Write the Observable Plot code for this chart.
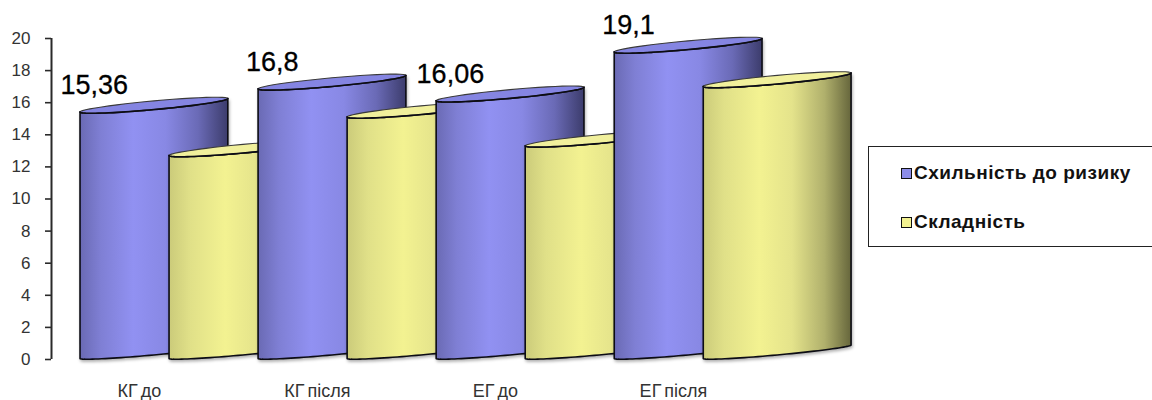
<!DOCTYPE html>
<html>
<head>
<meta charset="utf-8">
<script src="https://cdn.jsdelivr.net/npm/d3@7"></script>
<script src="https://cdn.jsdelivr.net/npm/@observablehq/plot@0.6"></script>
<style>
  html, body { margin: 0; padding: 0; background: #fff; }
  #chart { position: relative; width: 1152px; height: 400px; overflow: hidden; font-family: "Liberation Sans", Arial, sans-serif; }
  #chart svg { display: block; }
  #chart svg [aria-label="x-axis tick label"] text { word-spacing: -2px; }
  .legend { position: absolute; left: 868px; top: 146px; width: 284px; height: 101px; box-sizing: border-box; border: 1px solid #222; border-right: none; background: #fff; }
  .legend .row { position: absolute; left: 32px; height: 20px; display: flex; align-items: center; font-weight: bold; font-size: 19px; letter-spacing: 0.5px; color: #111; white-space: nowrap; }
  .legend .swatch { width: 9px; height: 9px; border: 1.5px solid #111; margin-right: 2px; }
</style>
</head>
<body>
<div id="chart"></div>
<script>
// Readings per group
const categories = ["КГ до", "КГ після", "ЕГ до", "ЕГ після"];
const seriesNames = ["Схильність до ризику", "Складність"];
const riskValues = [15.36, 16.8, 16.06, 19.1];
const complexityValues = [12.65, 15.05, 13.25, 16.95];
const yTicks = [0, 2, 4, 6, 8, 10, 12, 14, 16, 18, 20];

// One group step on x is 1 unit; these are the cylinder proportions in chart units
const seriesOffset = [0, 0.5];
const cylinderWidth = 0.83;
const tilt = 0.84;      // rise of the cap across the cylinder, in value units
const capDepth = 0.27;  // half thickness of the elliptical top cap, in value units
const baseDepth = 0.2;  // half thickness of the curved bottom edge
const capSteps = 48;

const width = 1152, height = 400;
const xMin = -0.163, xMax = 6.02;

// Half an ellipse (or all of it) tilted across the cylinder, starting at base value v
function capArc(left, v, from, to, depth = capDepth) {
  const a = cylinderWidth / 2, xc = left + a, yc = v + tilt / 2;
  return d3.range(capSteps + 1).map(k => {
    const t = from + (to - from) * k / capSteps;
    return {x: xc + a * Math.cos(t), y: yc + (tilt / 2) * Math.cos(t) - depth * Math.sin(t)};
  });
}

// Body outline: front of the top cap, right edge, front of the bottom cap, left edge
function sideOutline(left, v) {
  const top = capArc(left, v, Math.PI, 0);
  const bottom = capArc(left, 0, 0, Math.PI, baseDepth);
  return [...top, ...bottom, top[0]];
}

function cylinderMarks(left, v, kind) {
  return [
    Plot.line(sideOutline(left, v), {
      x: "x", y: "y", dy: -1, dx: -0.5,
      fill: `url(#${kind}Side)`, stroke: "#0c0c14", strokeWidth: 1.6,
      strokeLinejoin: "round",
      imageFilter: "drop-shadow(1px 2px 1.5px rgba(0,0,0,0.3))"
    }),
    Plot.line(capArc(left, v, 0, 2 * Math.PI), {
      x: "x", y: "y", dy: -1, dx: -0.5,
      fill: kind === "blue" ? "#8585e2" : "#f1f09c",
      stroke: "#3a3a3a", strokeWidth: 1.1
    }),
    Plot.line(capArc(left, v, Math.PI, 0), {
      x: "x", y: "y", dy: -1, dx: -0.5, stroke: "#0c0c14", strokeWidth: 1.6
    })
  ];
}

// Shading across the cylinder body
function gradients() {
  const g = document.createElementNS("http://www.w3.org/2000/svg", "g");
  g.innerHTML = `<defs>
    <linearGradient id="blueSide" x1="0" x2="1" y1="0" y2="0">
      <stop offset="0" stop-color="#6a6ab4"/>
      <stop offset="0.14" stop-color="#7f7fd4"/>
      <stop offset="0.36" stop-color="#9191f2"/>
      <stop offset="0.58" stop-color="#8888e4"/>
      <stop offset="0.8" stop-color="#6a6ab6"/>
      <stop offset="1" stop-color="#3c3c6c"/>
    </linearGradient>
    <linearGradient id="yellowSide" x1="0" x2="1" y1="0" y2="0">
      <stop offset="0" stop-color="#cbcb7a"/>
      <stop offset="0.14" stop-color="#e0e088"/>
      <stop offset="0.38" stop-color="#f3f291"/>
      <stop offset="0.6" stop-color="#e4e38b"/>
      <stop offset="0.82" stop-color="#b0b06c"/>
      <stop offset="1" stop-color="#66663c"/>
    </linearGradient>
  </defs>`;
  return g;
}

// Each group paints blue then yellow, so later cylinders overlap earlier ones
const cylinders = categories.flatMap((_, i) => [
  ...cylinderMarks(i + seriesOffset[0], riskValues[i], "blue"),
  ...cylinderMarks(i + seriesOffset[1], complexityValues[i], "yellow")
]);

const chart = Plot.plot({
  width, height,
  marginLeft: 51, marginRight: 0, marginTop: 38, marginBottom: 41,
  style: {fontFamily: "'Liberation Sans', Arial, sans-serif", background: "transparent", overflow: "visible"},
  x: {domain: [xMin, xMax], axis: null},
  y: {domain: [0, 20], axis: null},
  marks: [
    gradients,
    ...cylinders,
    Plot.ruleX([xMin], {y1: 0, y2: 20, stroke: "#2a2a2a", strokeWidth: 2}),
    Plot.axisY({
      ticks: yTicks, tickSize: 6, tickPadding: 15, label: null,
      stroke: "#2a2a2a", strokeWidth: 1.6, fill: "#333", fontSize: 17,
      tickFormat: d => String(d)
    }),
    Plot.axisX({
      anchor: "bottom", ticks: categories.map((_, i) => i + 0.33), tickSize: 0, tickPadding: 25,
      label: null, fill: "#333", fontSize: 18,
      tickFormat: v => categories[Math.floor(v)]
    }),
    Plot.text(riskValues, {
      x: (_, i) => i + 0.077, y: d => d, dy: -27.5,
      text: d => String(d).replace(".", ","),
      fontSize: 27, fill: "#000", stroke: "#000", strokeWidth: 0.3
    })
  ]
});

const root = document.getElementById("chart");
root.appendChild(chart);

// Legend box at the right of the plot
const swatchColors = ["#8c8ce8", "#f3f291"];
const rowTops = [16, 65];
const legend = d3.select(root).append("div").attr("class", "legend");
seriesNames.forEach((name, i) => {
  const row = legend.append("div").attr("class", "row").style("top", rowTops[i] + "px");
  row.append("span").attr("class", "swatch").style("background", swatchColors[i]);
  row.append("span").text(name);
});
</script>
</body>
</html>
